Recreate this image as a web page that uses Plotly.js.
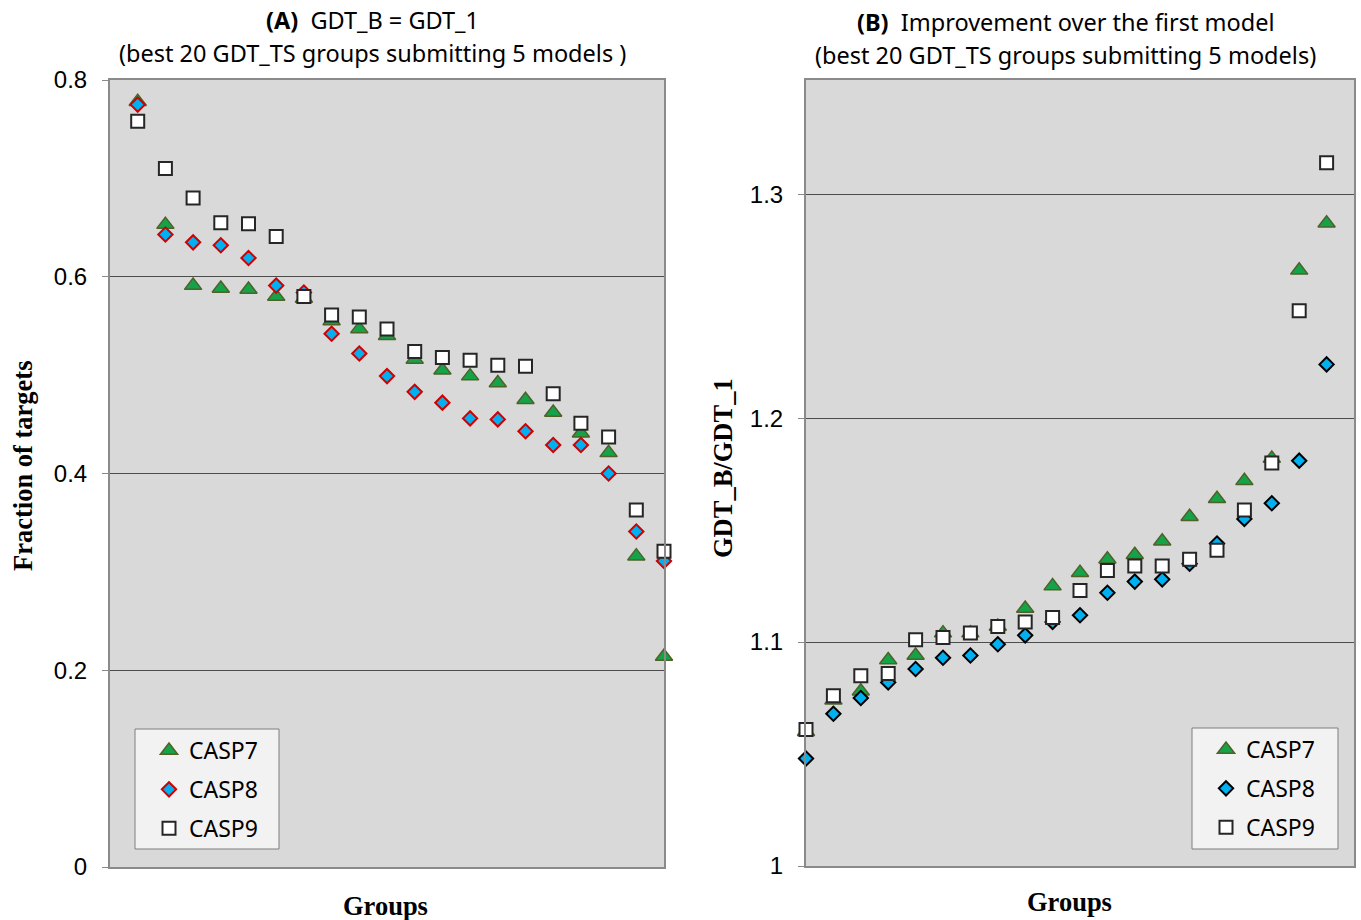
<!DOCTYPE html>
<html>
<head>
<meta charset="utf-8">
<script src="https://cdn.plot.ly/plotly-3.0.1.min.js"></script>
<style>html,body{margin:0;padding:0;background:#fff;}#chart{width:1361px;height:920px;}</style>
</head>
<body>
<div id="chart"></div>
<script>
// Group index (1..20), ranked
const groups = [1,2,3,4,5,6,7,8,9,10,11,12,13,14,15,16,17,18,19,20];
const seriesNames = ["CASP7", "CASP8", "CASP9"];

// Panel A: fraction of targets with GDT_B = GDT_1
const casp7A = [0.778,0.653,0.591,0.588,0.587,0.580,0.578,0.555,0.547,0.540,0.516,0.505,0.499,0.492,0.475,0.462,0.441,0.421,0.316,0.214];
const casp8A = [0.775,0.643,0.635,0.632,0.619,0.591,0.584,0.542,0.522,0.499,0.483,0.472,0.456,0.455,0.443,0.429,0.429,0.400,0.341,0.311];
const casp9A = [0.758,0.710,0.680,0.655,0.654,0.641,0.580,0.561,0.559,0.547,0.524,0.518,0.515,0.510,0.509,0.481,0.451,0.437,0.363,0.321];

// Panel B: GDT_B / GDT_1
const casp7B = [1.060,1.074,1.078,1.092,1.094,1.104,1.104,1.107,1.115,1.125,1.131,1.137,1.139,1.145,1.156,1.164,1.172,1.182,1.266,1.287];
const casp8B = [1.048,1.068,1.075,1.082,1.088,1.093,1.094,1.099,1.103,1.109,1.112,1.122,1.127,1.128,1.135,1.144,1.155,1.162,1.181,1.224];
const casp9B = [1.061,1.076,1.085,1.086,1.101,1.102,1.104,1.107,1.109,1.111,1.123,1.132,1.134,1.134,1.137,1.141,1.159,1.180,1.248,1.314];

const yTicksA = [0, 0.2, 0.4, 0.6, 0.8];
const yTickTextA = ["0", "0.2", "0.4", "0.6", "0.8"];
const yTicksB = [1, 1.1, 1.2, 1.3];
const yTickTextB = ["1", "1.1", "1.2", "1.3"];

const sansFont = "Noto Sans, Open Sans, sans-serif";
const tickFont = "Liberation Sans, Arial, sans-serif";
const serifFont = "Liberation Serif, Times New Roman, serif";

const triStyle = {symbol: "triangle-up", size: 15, color: "#14a349", line: {color: "#4f6228", width: 1.5}};
const diaStyleA = {symbol: "diamond", size: 11, color: "#00b0f0", line: {color: "#d00000", width: 2}};
const diaStyleB = {symbol: "diamond", size: 11, color: "#00b0f0", line: {color: "#000000", width: 2}};
const sqStyle = {symbol: "square", size: 13, color: "#ffffff", line: {color: "#262626", width: 2}};

function tr(y, name, marker, xa, ya, leg, grp) {
  return {x: groups, y: y, name: name, type: "scatter", mode: "markers", marker: marker,
          xaxis: xa, yaxis: ya, legend: leg, legendgroup: grp, cliponaxis: false,
          hoverinfo: "x+y+name"};
}

const data = [
  tr(casp7A, seriesNames[0], triStyle, "x", "y", "legend", "a7"),
  tr(casp8A, seriesNames[1], diaStyleA, "x", "y", "legend", "a8"),
  tr(casp9A, seriesNames[2], sqStyle, "x", "y", "legend", "a9"),
  tr(casp7B, seriesNames[0], triStyle, "x2", "y2", "legend2", "b7"),
  tr(casp8B, seriesNames[1], diaStyleB, "x2", "y2", "legend2", "b8"),
  tr(casp9B, seriesNames[2], sqStyle, "x2", "y2", "legend2", "b9")
];

const frame = {showline: true, mirror: true, linecolor: "#8a8a8a", linewidth: 2};
const legendBase = {bgcolor: "rgba(0,0,0,0)", borderwidth: 0,
  font: {family: sansFont, size: 23, color: "#000"}, tracegroupgap: 6,
  xanchor: "left", yanchor: "top", itemclick: false, itemdoubleclick: false};

function px(x) { return x / 1361; }
function py(y) { return 1 - y / 920; }

const layout = {
  width: 1361, height: 920,
  margin: {l: 0, r: 0, t: 0, b: 0},
  paper_bgcolor: "#ffffff",
  plot_bgcolor: "#d9d9d9",
  showlegend: true,
  xaxis: Object.assign({domain: [px(110), px(664)], range: [0, 20], showticklabels: false,
    ticks: "", showgrid: false, zeroline: false, fixedrange: true}, frame),
  yaxis: Object.assign({domain: [py(867), py(80)], range: [0, 0.8], tickvals: yTicksA,
    ticktext: yTickTextA, ticks: "outside", ticklen: 6, tickcolor: "#8a8a8a", tickwidth: 1,
    ticklabelstandoff: 10, showgrid: true, gridcolor: "#4d4d4d", gridwidth: 1, zeroline: false,
    tickfont: {family: tickFont, size: 24, color: "#000"}, fixedrange: true}, frame),
  xaxis2: Object.assign({domain: [px(806), px(1354)], range: [1, 21], anchor: "y2",
    showticklabels: false, ticks: "", showgrid: false, zeroline: false, fixedrange: true}, frame),
  yaxis2: Object.assign({domain: [py(866), py(80)], range: [1, 1.351], anchor: "x2",
    tickvals: yTicksB, ticktext: yTickTextB, ticks: "outside", ticklen: 6, tickcolor: "#8a8a8a",
    tickwidth: 1, ticklabelstandoff: 10, showgrid: true, gridcolor: "#4d4d4d", gridwidth: 1,
    zeroline: false, tickfont: {family: tickFont, size: 24, color: "#000"}, fixedrange: true}, frame),
  legend: Object.assign({x: px(149), y: py(729)}, legendBase),
  legend2: Object.assign({x: px(1206), y: py(728)}, legendBase),
  shapes: [
    {type: "rect", xref: "paper", yref: "paper", x0: px(135), x1: px(279), y0: py(849), y1: py(729),
     fillcolor: "#f2f2f2", line: {color: "#7f7f7f", width: 1}, layer: "above"},
    {type: "rect", xref: "paper", yref: "paper", x0: px(1192), x1: px(1338), y0: py(849), y1: py(728),
     fillcolor: "#f2f2f2", line: {color: "#7f7f7f", width: 1}, layer: "above"}
  ],
  annotations: [
    {text: "<b>(A)</b>  GDT_B = GDT_1", x: px(372), y: py(20), xref: "paper", yref: "paper",
     showarrow: false, xanchor: "center", yanchor: "middle", font: {family: sansFont, size: 23.5, color: "#000"}},
    {text: "(best 20 GDT_TS groups submitting 5 models )", x: px(372), y: py(53), xref: "paper", yref: "paper",
     showarrow: false, xanchor: "center", yanchor: "middle", font: {family: sansFont, size: 23.5, color: "#000"}},
    {text: "<b>(B)</b>  Improvement over the first model", x: px(1065), y: py(22), xref: "paper", yref: "paper",
     showarrow: false, xanchor: "center", yanchor: "middle", font: {family: sansFont, size: 23.5, color: "#000"}},
    {text: "(best 20 GDT_TS groups submitting 5 models)", x: px(1065), y: py(55), xref: "paper", yref: "paper",
     showarrow: false, xanchor: "center", yanchor: "middle", font: {family: sansFont, size: 23.5, color: "#000"}},
    {text: "<b>Fraction of targets</b>", x: px(23), y: py(466), xref: "paper", yref: "paper", textangle: -90,
     showarrow: false, xanchor: "center", yanchor: "middle", font: {family: serifFont, size: 26.5, color: "#000"}},
    {text: "<b>GDT_B/GDT_1</b>", x: px(723), y: py(468), xref: "paper", yref: "paper", textangle: -90,
     showarrow: false, xanchor: "center", yanchor: "middle", font: {family: serifFont, size: 26.5, color: "#000"}},
    {text: "<b>Groups</b>", x: px(385), y: py(906), xref: "paper", yref: "paper",
     showarrow: false, xanchor: "center", yanchor: "middle", font: {family: serifFont, size: 26.5, color: "#000"}},
    {text: "<b>Groups</b>", x: px(1069), y: py(902), xref: "paper", yref: "paper",
     showarrow: false, xanchor: "center", yanchor: "middle", font: {family: serifFont, size: 26.5, color: "#000"}}
  ]
};

Plotly.newPlot("chart", data, layout, {displayModeBar: false, staticPlot: false, responsive: false});
</script>
</body>
</html>
